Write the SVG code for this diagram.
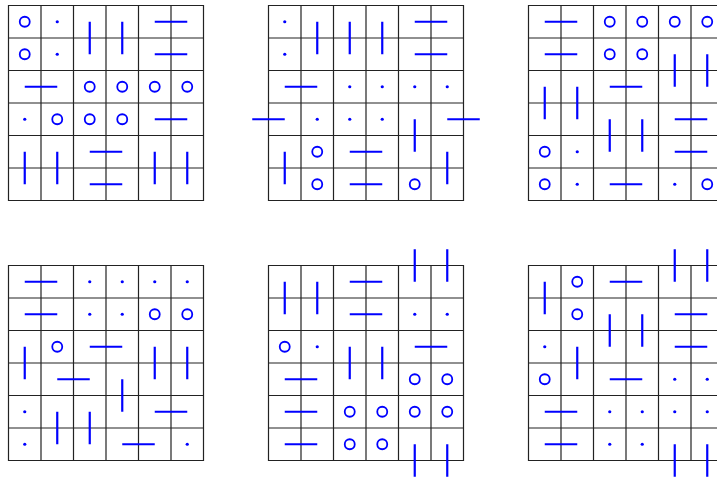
<svg xmlns="http://www.w3.org/2000/svg" width="717" height="479" viewBox="0 0 717 479">
<defs>
<style>
.grid{fill:none;stroke:#222;stroke-width:1.2}
.d{stroke:#0000ff;stroke-width:2.2;fill:none;stroke-linecap:butt}
.o{fill:none;stroke:#0000ff;stroke-width:1.8}
.p{fill:#0000ff;stroke:none}
</style>
<path id="g" class="grid" d="M0,0H195V195H0Z M32.5,0V195 M65,0V195 M97.5,0V195 M130,0V195 M162.5,0V195 M0,32.5H195 M0,65H195 M0,97.5H195 M0,130H195 M0,162.5H195"/>
<circle id="o" class="o" r="5"/>
<circle id="p" class="p" r="1.6"/>
</defs>
<rect width="717" height="479" fill="#fff"/>

<!-- Grid 1 -->
<g id="grid1" transform="translate(8.5,5.5)">
<use href="#g"/>
<g id="g1-items">
<use href="#o" x="16.25" y="16.25"/><use href="#p" x="48.75" y="16.25"/>
<line class="d" x1="81.25" y1="16.25" x2="81.25" y2="48.75"/>
<line class="d" x1="113.75" y1="16.25" x2="113.75" y2="48.75"/>
<line class="d" x1="146.25" y1="16.25" x2="178.75" y2="16.25"/>
<use href="#o" x="16.25" y="48.75"/><use href="#p" x="48.75" y="48.75"/>
<line class="d" x1="146.25" y1="48.75" x2="178.75" y2="48.75"/>
<line class="d" x1="16.25" y1="81.25" x2="48.75" y2="81.25"/>
<use href="#o" x="81.25" y="81.25"/><use href="#o" x="113.75" y="81.25"/><use href="#o" x="146.25" y="81.25"/><use href="#o" x="178.75" y="81.25"/>
<use href="#p" x="16.25" y="113.75"/><use href="#o" x="48.75" y="113.75"/><use href="#o" x="81.25" y="113.75"/><use href="#o" x="113.75" y="113.75"/>
<line class="d" x1="146.25" y1="113.75" x2="178.75" y2="113.75"/>
<line class="d" x1="16.25" y1="146.25" x2="16.25" y2="178.75"/>
<line class="d" x1="48.75" y1="146.25" x2="48.75" y2="178.75"/>
<line class="d" x1="81.25" y1="146.25" x2="113.75" y2="146.25"/>
<line class="d" x1="146.25" y1="146.25" x2="146.25" y2="178.75"/>
<line class="d" x1="178.75" y1="146.25" x2="178.75" y2="178.75"/>
<line class="d" x1="81.25" y1="178.75" x2="113.75" y2="178.75"/>
</g>
</g>

<!-- Grid 2 -->
<g id="grid2" transform="translate(268.5,5.5)">
<use href="#g"/>
<g id="g2-items">
<use href="#p" x="16.25" y="16.25"/>
<line class="d" x1="48.75" y1="16.25" x2="48.75" y2="48.75"/>
<line class="d" x1="81.25" y1="16.25" x2="81.25" y2="48.75"/>
<line class="d" x1="113.75" y1="16.25" x2="113.75" y2="48.75"/>
<line class="d" x1="146.25" y1="16.25" x2="178.75" y2="16.25"/>
<use href="#p" x="16.25" y="48.75"/>
<line class="d" x1="146.25" y1="48.75" x2="178.75" y2="48.75"/>
<line class="d" x1="16.25" y1="81.25" x2="48.75" y2="81.25"/>
<use href="#p" x="81.25" y="81.25"/><use href="#p" x="113.75" y="81.25"/><use href="#p" x="146.25" y="81.25"/><use href="#p" x="178.75" y="81.25"/>
<line class="d" x1="-16.25" y1="113.75" x2="16.25" y2="113.75"/>
<use href="#p" x="48.75" y="113.75"/><use href="#p" x="81.25" y="113.75"/><use href="#p" x="113.75" y="113.75"/>
<line class="d" x1="146.25" y1="113.75" x2="146.25" y2="146.25"/>
<line class="d" x1="178.75" y1="113.75" x2="211.25" y2="113.75"/>
<line class="d" x1="16.25" y1="146.25" x2="16.25" y2="178.75"/>
<use href="#o" x="48.75" y="146.25"/>
<line class="d" x1="81.25" y1="146.25" x2="113.75" y2="146.25"/>
<line class="d" x1="178.75" y1="146.25" x2="178.75" y2="178.75"/>
<use href="#o" x="48.75" y="178.75"/>
<line class="d" x1="81.25" y1="178.75" x2="113.75" y2="178.75"/>
<use href="#o" x="146.25" y="178.75"/>
</g>
</g>

<!-- Grid 3 -->
<g id="grid3" transform="translate(528.5,5.5)">
<use href="#g"/>
<g id="g3-items">
<line class="d" x1="16.25" y1="16.25" x2="48.75" y2="16.25"/>
<use href="#o" x="81.25" y="16.25"/><use href="#o" x="113.75" y="16.25"/><use href="#o" x="146.25" y="16.25"/><use href="#o" x="178.75" y="16.25"/>
<line class="d" x1="16.25" y1="48.75" x2="48.75" y2="48.75"/>
<use href="#o" x="81.25" y="48.75"/><use href="#o" x="113.75" y="48.75"/>
<line class="d" x1="146.25" y1="48.75" x2="146.25" y2="81.25"/>
<line class="d" x1="178.75" y1="48.75" x2="178.75" y2="81.25"/>
<line class="d" x1="16.25" y1="81.25" x2="16.25" y2="113.75"/>
<line class="d" x1="48.75" y1="81.25" x2="48.75" y2="113.75"/>
<line class="d" x1="81.25" y1="81.25" x2="113.75" y2="81.25"/>
<line class="d" x1="81.25" y1="113.75" x2="81.25" y2="146.25"/>
<line class="d" x1="113.75" y1="113.75" x2="113.75" y2="146.25"/>
<line class="d" x1="146.25" y1="113.75" x2="178.75" y2="113.75"/>
<use href="#o" x="16.25" y="146.25"/><use href="#p" x="48.75" y="146.25"/>
<line class="d" x1="146.25" y1="146.25" x2="178.75" y2="146.25"/>
<use href="#o" x="16.25" y="178.75"/><use href="#p" x="48.75" y="178.75"/>
<line class="d" x1="81.25" y1="178.75" x2="113.75" y2="178.75"/>
<use href="#p" x="146.25" y="178.75"/><use href="#o" x="178.75" y="178.75"/>
</g>
</g>

<!-- Grid 4 -->
<g id="grid4" transform="translate(8.5,265.5)">
<use href="#g"/>
<g id="g4-items">
<line class="d" x1="16.25" y1="16.25" x2="48.75" y2="16.25"/>
<use href="#p" x="81.25" y="16.25"/><use href="#p" x="113.75" y="16.25"/><use href="#p" x="146.25" y="16.25"/><use href="#p" x="178.75" y="16.25"/>
<line class="d" x1="16.25" y1="48.75" x2="48.75" y2="48.75"/>
<use href="#p" x="81.25" y="48.75"/><use href="#p" x="113.75" y="48.75"/><use href="#o" x="146.25" y="48.75"/><use href="#o" x="178.75" y="48.75"/>
<line class="d" x1="16.25" y1="81.25" x2="16.25" y2="113.75"/>
<use href="#o" x="48.75" y="81.25"/>
<line class="d" x1="81.25" y1="81.25" x2="113.75" y2="81.25"/>
<line class="d" x1="146.25" y1="81.25" x2="146.25" y2="113.75"/>
<line class="d" x1="178.75" y1="81.25" x2="178.75" y2="113.75"/>
<line class="d" x1="48.75" y1="113.75" x2="81.25" y2="113.75"/>
<line class="d" x1="113.75" y1="113.75" x2="113.75" y2="146.25"/>
<use href="#p" x="16.25" y="146.25"/>
<line class="d" x1="48.75" y1="146.25" x2="48.75" y2="178.75"/>
<line class="d" x1="81.25" y1="146.25" x2="81.25" y2="178.75"/>
<line class="d" x1="146.25" y1="146.25" x2="178.75" y2="146.25"/>
<use href="#p" x="16.25" y="178.75"/>
<line class="d" x1="113.75" y1="178.75" x2="146.25" y2="178.75"/>
<use href="#p" x="178.75" y="178.75"/>
</g>
</g>

<!-- Grid 5 -->
<g id="grid5" transform="translate(268.5,265.5)">
<use href="#g"/>
<g id="g5-items">
<line class="d" x1="146.25" y1="-16.25" x2="146.25" y2="16.25"/>
<line class="d" x1="178.75" y1="-16.25" x2="178.75" y2="16.25"/>
<line class="d" x1="16.25" y1="16.25" x2="16.25" y2="48.75"/>
<line class="d" x1="48.75" y1="16.25" x2="48.75" y2="48.75"/>
<line class="d" x1="81.25" y1="16.25" x2="113.75" y2="16.25"/>
<line class="d" x1="81.25" y1="48.75" x2="113.75" y2="48.75"/>
<use href="#p" x="146.25" y="48.75"/><use href="#p" x="178.75" y="48.75"/>
<use href="#o" x="16.25" y="81.25"/><use href="#p" x="48.75" y="81.25"/>
<line class="d" x1="81.25" y1="81.25" x2="81.25" y2="113.75"/>
<line class="d" x1="113.75" y1="81.25" x2="113.75" y2="113.75"/>
<line class="d" x1="146.25" y1="81.25" x2="178.75" y2="81.25"/>
<line class="d" x1="16.25" y1="113.75" x2="48.75" y2="113.75"/>
<use href="#o" x="146.25" y="113.75"/><use href="#o" x="178.75" y="113.75"/>
<line class="d" x1="16.25" y1="146.25" x2="48.75" y2="146.25"/>
<use href="#o" x="81.25" y="146.25"/><use href="#o" x="113.75" y="146.25"/><use href="#o" x="146.25" y="146.25"/><use href="#o" x="178.75" y="146.25"/>
<line class="d" x1="16.25" y1="178.75" x2="48.75" y2="178.75"/>
<use href="#o" x="81.25" y="178.75"/><use href="#o" x="113.75" y="178.75"/>
<line class="d" x1="146.25" y1="178.75" x2="146.25" y2="211.25"/>
<line class="d" x1="178.75" y1="178.75" x2="178.75" y2="211.25"/>
</g>
</g>

<!-- Grid 6 -->
<g id="grid6" transform="translate(528.5,265.5)">
<use href="#g"/>
<g id="g6-items">
<line class="d" x1="146.25" y1="-16.25" x2="146.25" y2="16.25"/>
<line class="d" x1="178.75" y1="-16.25" x2="178.75" y2="16.25"/>
<line class="d" x1="16.25" y1="16.25" x2="16.25" y2="48.75"/>
<use href="#o" x="48.75" y="16.25"/>
<line class="d" x1="81.25" y1="16.25" x2="113.75" y2="16.25"/>
<use href="#o" x="48.75" y="48.75"/>
<line class="d" x1="81.25" y1="48.75" x2="81.25" y2="81.25"/>
<line class="d" x1="113.75" y1="48.75" x2="113.75" y2="81.25"/>
<line class="d" x1="146.25" y1="48.75" x2="178.75" y2="48.75"/>
<use href="#p" x="16.25" y="81.25"/>
<line class="d" x1="48.75" y1="81.25" x2="48.75" y2="113.75"/>
<line class="d" x1="146.25" y1="81.25" x2="178.75" y2="81.25"/>
<use href="#o" x="16.25" y="113.75"/>
<line class="d" x1="81.25" y1="113.75" x2="113.75" y2="113.75"/>
<use href="#p" x="146.25" y="113.75"/><use href="#p" x="178.75" y="113.75"/>
<line class="d" x1="16.25" y1="146.25" x2="48.75" y2="146.25"/>
<use href="#p" x="81.25" y="146.25"/><use href="#p" x="113.75" y="146.25"/><use href="#p" x="146.25" y="146.25"/><use href="#p" x="178.75" y="146.25"/>
<line class="d" x1="16.25" y1="178.75" x2="48.75" y2="178.75"/>
<use href="#p" x="81.25" y="178.75"/><use href="#p" x="113.75" y="178.75"/>
<line class="d" x1="146.25" y1="178.75" x2="146.25" y2="211.25"/>
<line class="d" x1="178.75" y1="178.75" x2="178.75" y2="211.25"/>
</g>
</g>
</svg>
